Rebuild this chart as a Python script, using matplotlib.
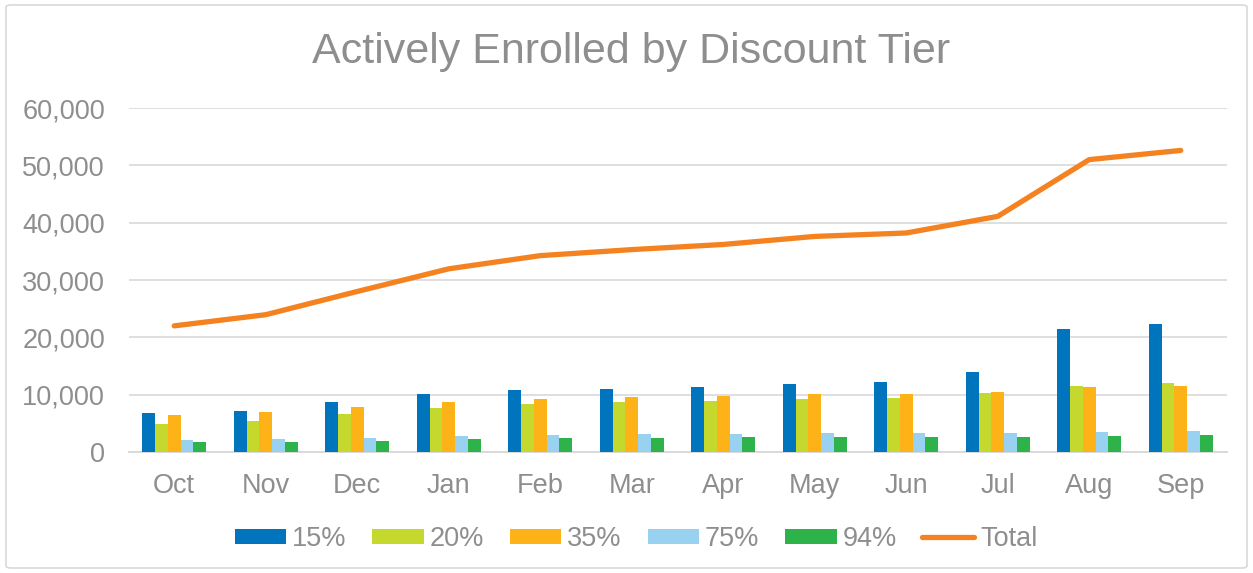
import matplotlib
matplotlib.use("Agg")
import matplotlib.pyplot as plt
from matplotlib.patches import FancyBboxPatch
from matplotlib.ticker import FuncFormatter
import numpy as np

months = ["Oct", "Nov", "Dec", "Jan", "Feb", "Mar", "Apr", "May", "Jun", "Jul", "Aug", "Sep"]
tiers = ["15%", "20%", "35%", "75%", "94%"]

tier15 = [6750, 7150, 8720, 10060, 10760, 10990, 11280, 11860, 12150, 13950, 21400, 22330]
tier20 = [4830, 5410, 6570, 7670, 8320, 8670, 8900, 9300, 9480, 10290, 11510, 11980]
tier35 = [6400, 6980, 7850, 8720, 9240, 9590, 9820, 10060, 10120, 10520, 11280, 11510]
tier75 = [2040, 2270, 2500, 2740, 2970, 3090, 3140, 3260, 3310, 3370, 3490, 3610]
tier94 = [1690, 1740, 1860, 2210, 2390, 2500, 2560, 2620, 2620, 2670, 2790, 2910]
total = [22000, 23950, 28000, 31950, 34250, 35300, 36200, 37600, 38200, 41100, 51000, 52600]

barColors = ["#0075BE", "#C5D82D", "#FDB218", "#99D1F1", "#2DB34A"]
lineColor = "#F58220"
textColor = "#8E8E8E"
gridColor = "#D9D9D9"

plt.rcParams["font.family"] = ["Liberation Sans", "DejaVu Sans"]

fig = plt.figure(figsize=(12.53, 5.73), dpi=100)
ax = fig.add_axes([128.5 / 1253, 1 - 452 / 573, 1098 / 1253, 344 / 573])

# rounded chart border
fig.patches.append(FancyBboxPatch((6 / 1253, 5 / 573), 1241 / 1253, 563 / 573,
                                  boxstyle="round,pad=0,rounding_size=0.004",
                                  transform=fig.transFigure, facecolor="none",
                                  edgecolor=gridColor, linewidth=1.2))

x = np.arange(len(months))
width = 0.14
series = [tier15, tier20, tier35, tier75, tier94]
for k, (name, vals) in enumerate(zip(tiers, series)):
    ax.bar(x + (k - 2) * width, vals, width, color=barColors[k], label=name, zorder=3)

ax.plot(x, total, color=lineColor, linewidth=3.8, solid_capstyle="round",
        solid_joinstyle="round", label="Total", zorder=4)

ax.set_xlim(-0.5, len(months) - 0.5)
ax.set_ylim(0, 60000)
ax.set_yticks(np.arange(0, 60001, 10000))
ax.yaxis.set_major_formatter(FuncFormatter(lambda v, p: f"{int(v):,}"))
ax.set_xticks(x)
ax.set_xticklabels(months)

ax.grid(axis="y", color=gridColor, linewidth=1.2, zorder=0)
for s in ["top", "right", "left"]:
    ax.spines[s].set_visible(False)
ax.spines["bottom"].set_color(gridColor)
ax.spines["bottom"].set_linewidth(1.4)
ax.tick_params(axis="both", length=0, colors=textColor, labelsize=19.5)
ax.tick_params(axis="y", pad=17)
ax.tick_params(axis="x", pad=15)

fig.text(631 / 1253, 1 - 52 / 573, "Actively Enrolled by Discount Tier",
         ha="center", va="center", fontsize=31, color=textColor)

# bars first, Total last, like the reference legend
handles, labels = ax.get_legend_handles_labels()
order = [labels.index(t) for t in tiers] + [labels.index("Total")]
leg = fig.legend([handles[i] for i in order], [labels[i] for i in order],
                 loc="center", ncol=6,
                 bbox_to_anchor=(636 / 1253, 1 - 539 / 573), frameon=False,
                 fontsize=19.5, handlelength=1.9, handleheight=0.52,
                 handletextpad=0.22, columnspacing=0.95)
for t in leg.get_texts():
    t.set_color(textColor)

fig.savefig("out.png", dpi=100, facecolor="white")
